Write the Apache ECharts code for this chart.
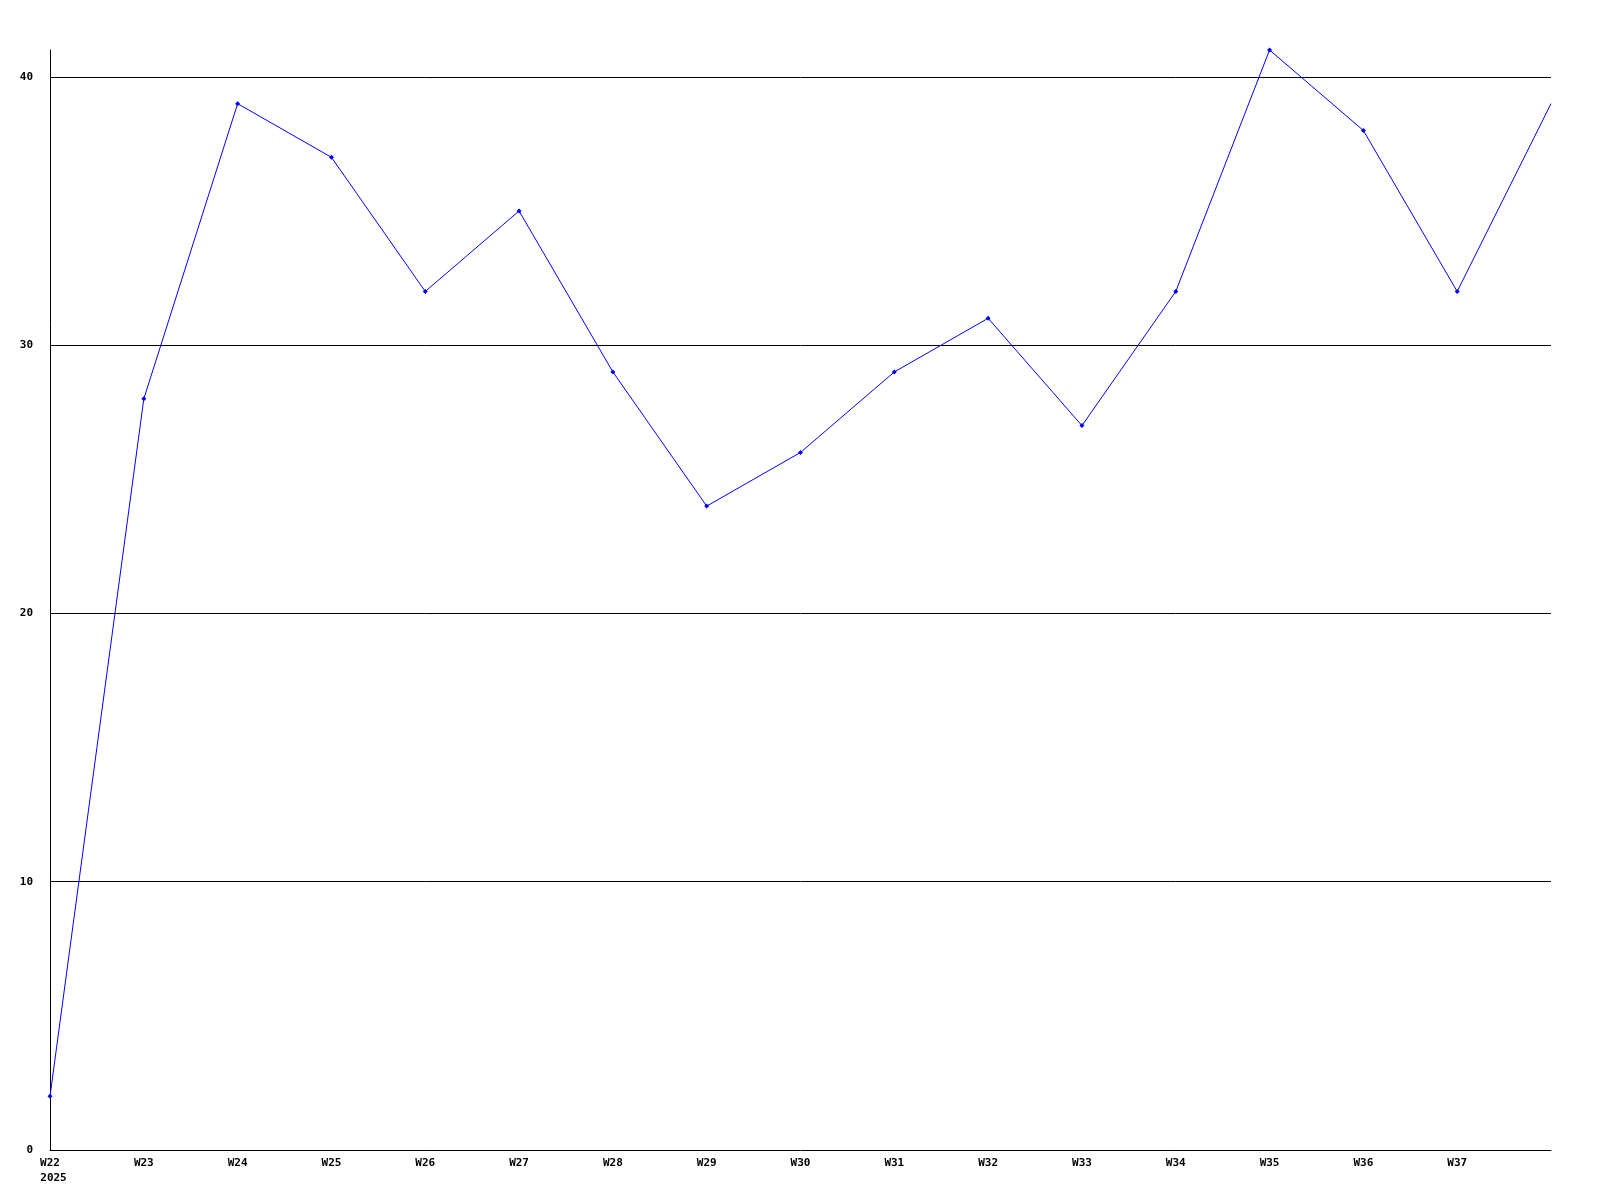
<!DOCTYPE html>
<html>
<head>
<meta charset="utf-8">
<script src="https://cdn.jsdelivr.net/npm/echarts@6/dist/echarts.min.js"></script>
<style>
  html, body { margin: 0; padding: 0; background: #fff; }
  #chart { width: 1600px; height: 1200px; }
</style>
</head>
<body>
<div id="chart"></div>
<script>
// weekly values, W22 .. W38
const weeks = ["W22", "W23", "W24", "W25", "W26", "W27", "W28", "W29", "W30",
               "W31", "W32", "W33", "W34", "W35", "W36", "W37", "W38"];
const values = [2, 28, 39, 37, 32, 35, 29, 24, 26, 29, 31, 27, 32, 41, 38, 32, 39];
const yearLabel = "2025";
const yMax = 41;

const chart = echarts.init(document.getElementById("chart"));

const labelFont = {
    color: "#000",
    fontFamily: "DejaVu Sans Mono",
    fontWeight: "bold",
    fontSize: 11
};

// last point sits on the right border and has no marker in the original
const seriesData = values.map(function (v, i) {
    return i === values.length - 1 ? { value: v, symbol: "none" } : v;
});

const option = {
    animation: false,
    grid: { left: 50, right: 49, top: 50, bottom: 50 },
    xAxis: {
        type: "category",
        data: weeks,
        boundaryGap: false,
        axisLine: { lineStyle: { color: "#000", width: 1 } },
        axisTick: { show: false },
        splitLine: { show: false },
        axisLabel: Object.assign({}, labelFont, {
            margin: 6,
            lineHeight: 15,
            interval: 0,
            formatter: function (val, idx) {
                if (idx === 0) return val + "\n{yr|" + yearLabel + "}";
                if (idx === weeks.length - 1) return "";
                return val;
            },
            rich: {
                yr: Object.assign({}, labelFont, { lineHeight: 15, padding: [0, 0, 0, 7] })
            }
        })
    },
    yAxis: {
        type: "value",
        min: 0,
        max: yMax,
        interval: 10,
        axisLine: { show: true, lineStyle: { color: "#000", width: 1 } },
        axisTick: { show: false },
        splitLine: {
            show: true,
            showMinLine: false,
            showMaxLine: false,
            lineStyle: { color: "#000", width: 1 }
        },
        axisLabel: Object.assign({}, labelFont, {
            margin: 17,
            showMaxLabel: false
        })
    },
    series: [
        {
            type: "line",
            data: seriesData,
            smooth: false,
            symbol: "diamond",
            symbolSize: 5,
            showSymbol: true,
            lineStyle: { color: "#0000ff", width: 1 },
            itemStyle: { color: "#0000ff" }
        }
    ]
};

chart.setOption(option);
</script>
</body>
</html>
